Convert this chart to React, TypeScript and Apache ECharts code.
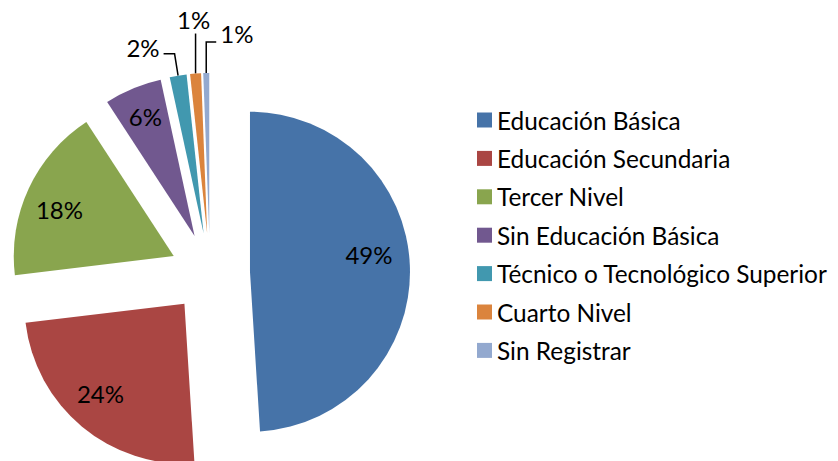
import React, { useEffect, useRef } from "react";
import * as echarts from "echarts";

const categories = [
  "Educación Básica",
  "Educación Secundaria",
  "Tercer Nivel",
  "Sin Educación Básica",
  "Técnico o Tecnológico Superior",
  "Cuarto Nivel",
  "Sin Registrar",
];
const values = [49.0, 24.1, 17.7, 5.8, 1.7, 1.1, 0.6];
const labels = ["49%", "24%", "18%", "6%", "2%", "1%", "1%"];
const colors = ["#4673A8", "#AA4643", "#89A54E", "#71588F", "#4198AF", "#DB843D", "#93A9CF"];
const outsideIdx = [4, 5, 6];

const FONT = "Lato, 'Open Sans', sans-serif";
const OFFSET = 40;
const CLEAR = "rgba(0,0,0,0)";

export default function App() {
  const ref = useRef<HTMLDivElement>(null);
  useEffect(() => {
    if (!ref.current) return;
    const chart = echarts.init(ref.current, null, { renderer: "svg" });
    const center = [210, 273];
    const common = {
      type: "pie",
      center,
      startAngle: 90,
      clockwise: true,
      avoidLabelOverlap: false,
      silent: true,
      emphasis: { disabled: true },
    };
    const labelText = {
      formatter: (p: any) => labels[p.dataIndex],
      fontFamily: FONT,
      fontSize: 24,
      color: "#000",
    };
    chart.setOption({
      animation: false,
      legend: {
        orient: "vertical",
        left: 472,
        top: 103,
        itemWidth: 15,
        itemHeight: 15,
        itemGap: 14.4,
        icon: "rect",
        data: categories,
        textStyle: { fontFamily: FONT, fontSize: 24.4, color: "#000", lineHeight: 24 },
        selectedMode: false,
      },
      series: [
        {
          ...common,
          radius: 160,
          selectedMode: "multiple",
          selectedOffset: OFFSET,
          label: { show: false },
          labelLine: { show: false },
          itemStyle: { borderWidth: 0 },
          data: categories.map((name, i) => ({
            name,
            value: values[i],
            selected: true,
            itemStyle: { color: colors[i] },
          })),
        },
        {
          // outside labels for the thin slices (unselected copy, shifted by the explode offset)
          ...common,
          radius: 160,
          itemStyle: { color: CLEAR },
          data: categories.map((name, i) => ({
            name,
            value: values[i],
            itemStyle: { color: CLEAR },
            label: { show: outsideIdx.includes(i) },
            labelLine: { show: outsideIdx.includes(i) },
          })),
          label: { ...labelText, position: "outside" },
          labelLine: { length: 20, length2: 10, lineStyle: { color: "#000", width: 1.5 } },
          labelLayout: (p: any) => {
            const pts = p.labelLinePoints;
            if (!pts) return {};
            const a = pts[0];
            const b = pts[1];
            const len = Math.hypot(b[0] - a[0], b[1] - a[1]) || 1;
            const ux = (b[0] - a[0]) / len;
            const uy = (b[1] - a[1]) / len;
            const q0 = [a[0] + ux * OFFSET, a[1] + uy * OFFSET];
            if (p.dataIndex === 4) {
              const q1 = [q0[0] + ux * 22, q0[1] + uy * 22];
              const q2 = [q1[0] - 11, q1[1]];
              return { x: q2[0] - 4, y: q2[1] - 6, align: "right", verticalAlign: "middle", labelLinePoints: [q0, q1, q2] };
            }
            if (p.dataIndex === 5) {
              const q1 = [q0[0], q0[1] - 40];
              return { x: q1[0] - 2, y: q1[1] - 14, align: "center", verticalAlign: "middle", labelLinePoints: [q0, q1, q1] };
            }
            if (p.dataIndex === 6) {
              const q1 = [q0[0], q0[1] - 31];
              const q2 = [q1[0] + 10, q1[1]];
              return { x: q2[0] + 4, y: q2[1] - 9, align: "left", verticalAlign: "middle", labelLinePoints: [q0, q1, q2] };
            }
            return {};
          },
        },
        {
          // inside labels for the large slices
          ...common,
          radius: 244,
          selectedMode: "multiple",
          selectedOffset: OFFSET,
          itemStyle: { color: CLEAR },
          data: categories.map((name, i) => ({
            name,
            value: values[i],
            selected: true,
            itemStyle: { color: CLEAR },
            label: { show: !outsideIdx.includes(i) },
          })),
          label: { ...labelText, position: "inside" },
          labelLine: { show: false },
          labelLayout: (p: any) => {
            if (p.dataIndex === 0) return { dx: -6, dy: -13 };
            if (p.dataIndex === 1) return { dx: -4, dy: -6 };
            if (p.dataIndex === 2) return { dx: -1, dy: 6 };
            if (p.dataIndex === 3) return { dx: -1, dy: -4 };
            return {};
          },
        },
      ],
    });
    return () => chart.dispose();
  }, []);
  return (
    <div
      ref={ref}
      style={{ position: "fixed", left: 0, top: 0, width: 838, height: 461, background: "#fff" }}
    />
  );
}
